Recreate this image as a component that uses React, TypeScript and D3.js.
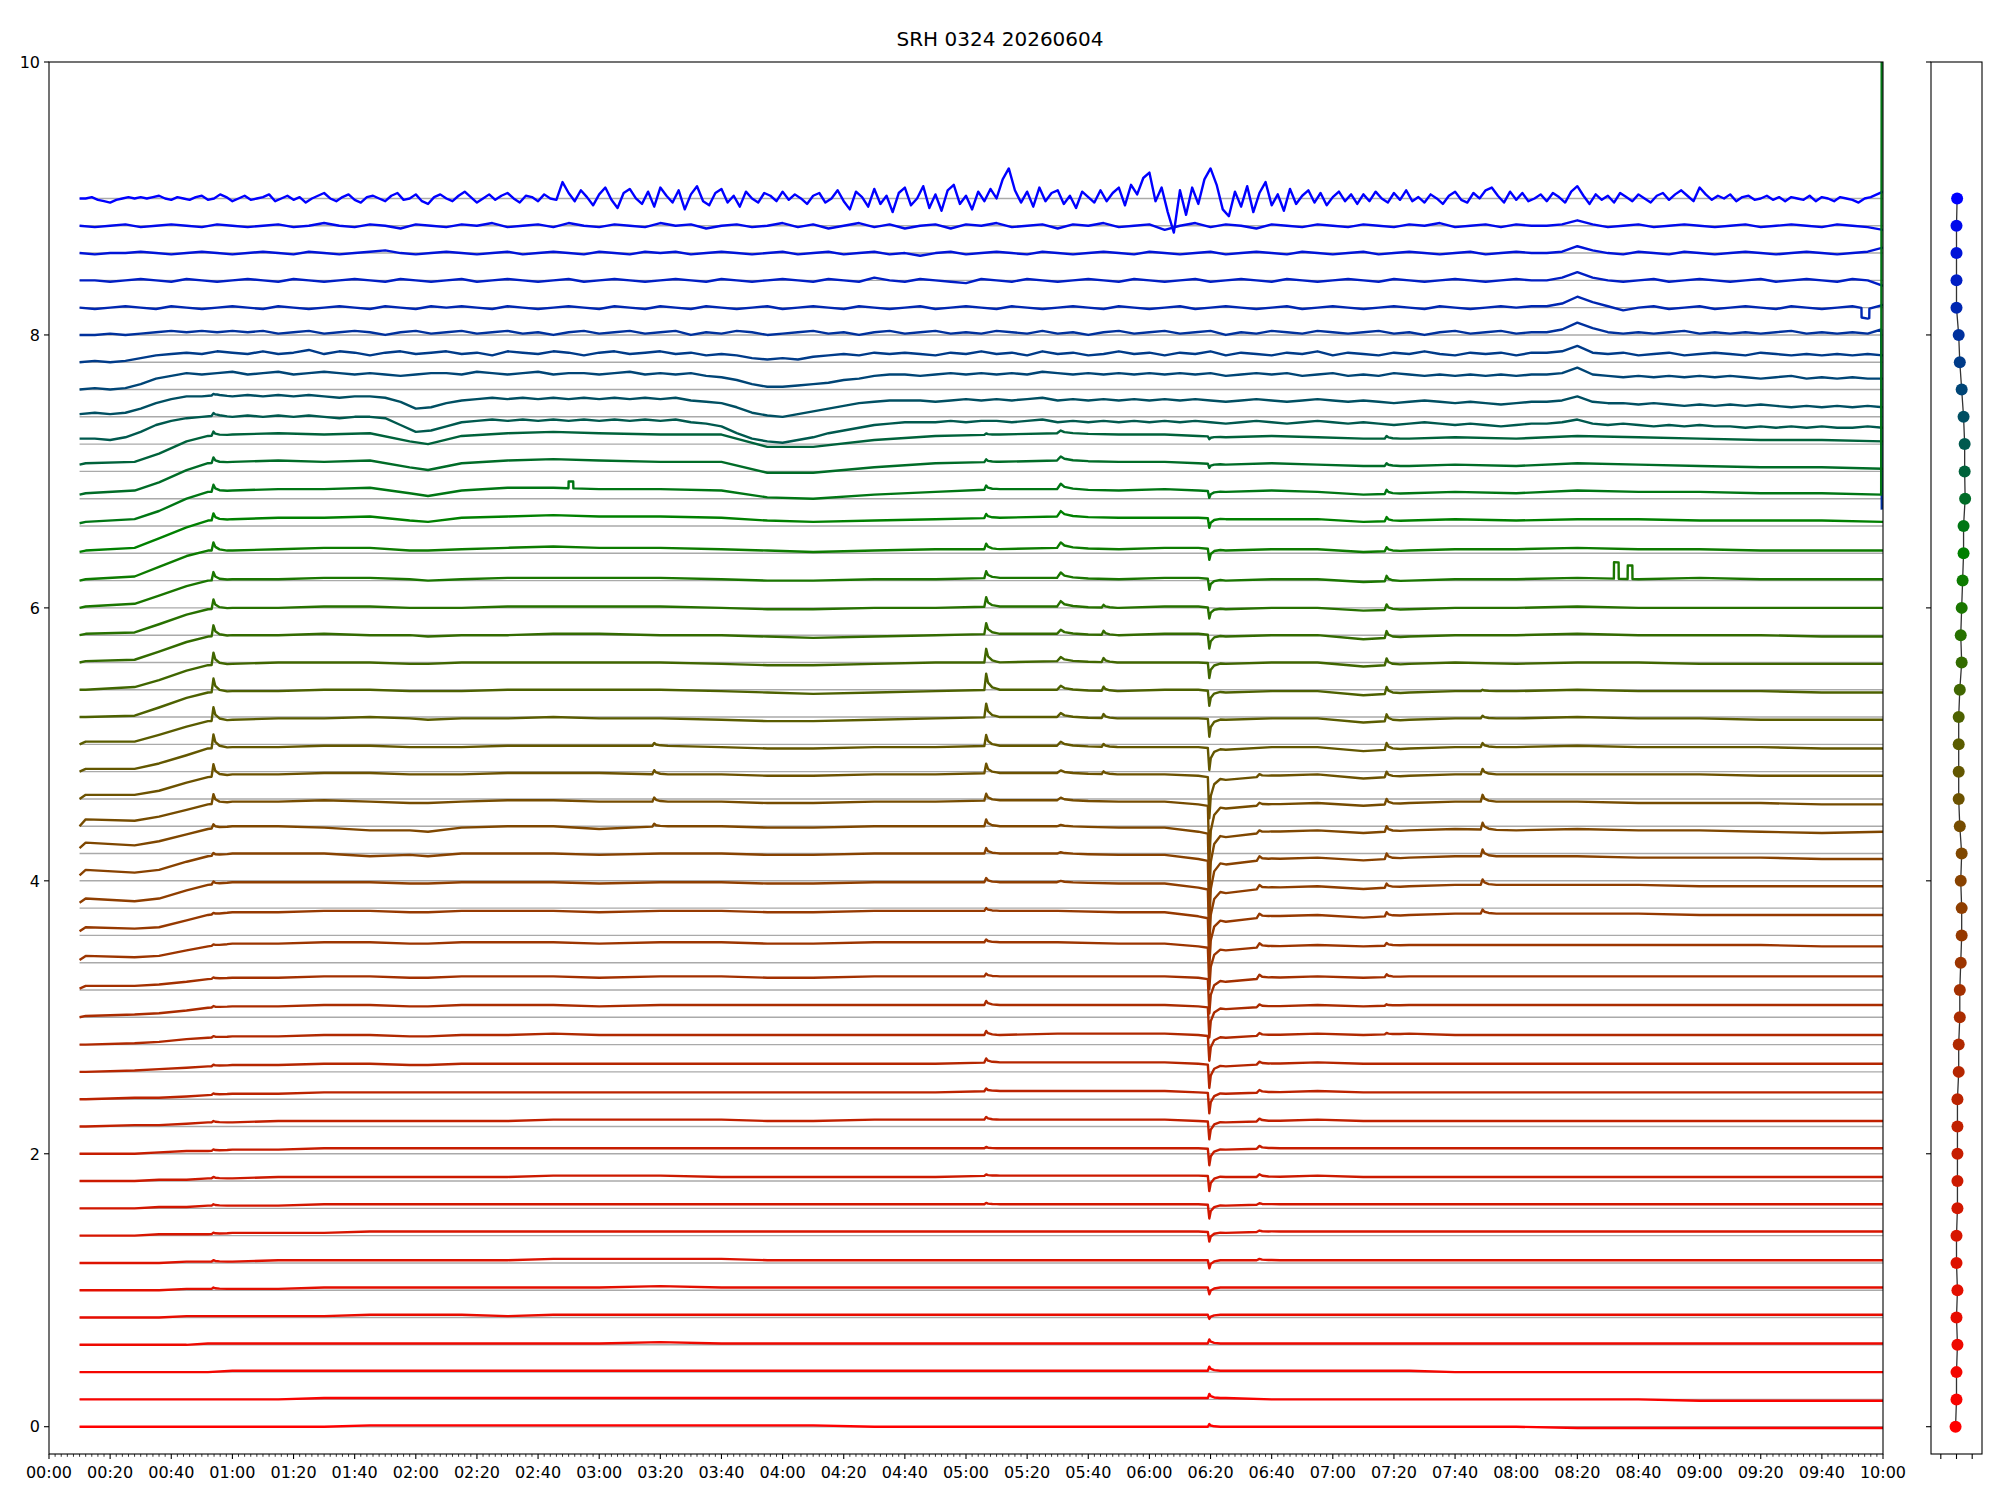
import * as d3 from 'd3'

// ---------- data ----------
const title = 'SRH 0324 20260604'

// trace offsets, top (blue) to bottom (red)
const offsets = [9.0, 8.8, 8.6, 8.4, 8.2, 8.0, 7.8, 7.6, 7.4, 7.2, 7.0, 6.8, 6.6, 6.4, 6.2, 6.0, 5.8, 5.6, 5.4, 5.2,
  5.0, 4.8, 4.6, 4.4, 4.2, 4.0, 3.8, 3.6, 3.4, 3.2, 3.0, 2.8, 2.6, 2.4, 2.2, 2.0, 1.8, 1.6, 1.4, 1.2, 1.0, 0.8, 0.6, 0.4, 0.2, 0.0]

// x position of each dot in the side panel
const dotX = [1.04, 1.0, 1.0, 1.0, 1.0, 1.14, 1.21, 1.33, 1.45, 1.52, 1.52, 1.55, 1.45, 1.45, 1.39, 1.33, 1.27, 1.33, 1.21, 1.14,
  1.14, 1.14, 1.14, 1.21, 1.33, 1.27, 1.33, 1.33, 1.27, 1.21, 1.21, 1.14, 1.14, 1.06, 1.06, 1.06, 1.06, 1.06, 1.0, 1.0,
  1.06, 1.0, 1.06, 1.0, 1.0, 0.94]

// colour of a trace by its offset
const colorStops = [0, 3, 4, 5, 6.4, 9]
const colorValues = ['#ff0000', '#aa2c00', '#884200', '#5a5c00', '#008000', '#0000ff']

const xTickLabels = ['00:00', '00:20', '00:40', '01:00', '01:20', '01:40', '02:00', '02:20', '02:40', '03:00', '03:20',
  '03:40', '04:00', '04:20', '04:40', '05:00', '05:20', '05:40', '06:00', '06:20', '06:40', '07:00', '07:20', '07:40',
  '08:00', '08:20', '08:40', '09:00', '09:20', '09:40', '10:00']
const yTickLabels = ['0', '2', '4', '6', '8', '10']
const sideTicks = [0, 1, 2]

// deviations in 1/100 units. top trace: every 2 min from 00:10
const topTrace = `
0 0 1 -1 -2 -3 -1 0 1 0   1 0 1 2 0 -1 1 0 -1 1   2 -1 0 3 1 -2 0 2 -1 0   1 3 -2 0 2 -1 1 -3 0 2
4 0 -2 1 3 -1 -3 1 2 0   -2 2 4 -1 0 3 -2 -4 1 3   0 -2 2 5 1 -3 0 3 -1 2   4 0 -3 2 1 -2 3 0 -1 12
4 -2 6 1 -5 3 8 -1 -7 4   7 0 -4 5 -6 8 2 -3 6 -8   3 9 -2 -5 4 7 -3 2 -6 5   0 -3 4 2 -2 5 -1 3 0 -4
2 4 -3 0 6 -2 -8 5 1 -6   7 -4 2 -10 4 8 -5 0 9 -7   3 -9 6 10 -4 2 -8 5 -2 7   0 14 22 6 -3 5 -6 8 -2 4
6 -4 2 -7 5 1 -3 6 -2 4   8 -5 10 3 15 19 -2 8 -10 -25   6 -12 8 -4 14 22 10 -8 -13 5   -6 9 -10 4 12 -5 3 -9 7 -4
2 6 -3 4 -5 1 5 -2 3 -4   3 -2 5 0 -3 4 -1 6 -2 1   -3 3 0 -4 2 5 -1 -3 4 0   6 8 2 -3 5 -1 4 -2 0 3
-2 4 1 -3 5 9 2 -4 3 -1   2 -3 4 1 -2 3 0 -3 2 4   -1 3 6 2 -2 8 3 -1 2 0   3 -2 1 2 -1 0 2 -1 1 -2
1 0 -1 2 -2 1 0 -2 1 0   -1 -3 0 1 3 5`

// traces 8.8 .. 7.2: every 5 min from 00:10 (one line = one hour)
const blueRows = [
  `0 -1 0 1 -1 0 1 0 -1 1 0 -1
   0 1 -1 0 2 0 -1 1 0 -2 1 0
   -1 1 0 2 -1 0 1 -1 2 0 -1 1
   0 -1 2 0 1 -2 0 1 -1 0 2 -1
   1 -2 0 2 -1 1 -2 0 1 -2 1 0
   2 -1 0 1 -2 1 0 2 -1 0 1 -3
   0 2 -1 1 0 -2 1 0 -1 1 0 -1
   1 0 -1 1 0 2 -1 0 1 -1 1 0
   0 1 4 1 -1 0 1 -1 0 1 0 -1
   0 1 -1 0 1 0 -1 1 0 -1 -3`,
  `0 -1 0 0 1 0 -1 0 1 0 -1 0
   1 0 -1 1 0 -1 0 1 2 0 -1 0
   1 0 -1 0 1 -1 0 1 0 -1 1 0
   -1 1 0 1 -1 0 1 0 -1 0 1 -1
   0 1 -1 0 1 -1 0 -2 0 1 -1 0
   1 0 -1 1 0 -1 0 1 0 -1 1 0
   -1 0 1 -1 0 1 0 -1 1 0 -1 0
   1 -1 0 1 0 -1 0 1 -1 0 1 0
   0 1 5 2 0 -1 1 0 -1 1 0 -1
   0 1 0 -1 0 1 0 -1 0 1 4`,
  `0 0 -1 0 1 0 -1 1 0 -1 0 1
   0 -1 1 0 -1 0 1 0 -1 1 0 -1
   0 1 -1 0 1 0 -1 0 1 -1 0 1
   0 -1 0 1 0 -1 1 0 -1 0 1 0
   -1 1 0 -1 2 0 -1 1 0 -1 -2 1
   0 -1 1 0 -1 0 1 0 -1 1 0 -1
   0 1 -1 0 1 0 -1 1 0 -1 0 1
   0 -1 1 0 -1 0 1 0 -1 0 1 0
   0 2 6 2 0 -1 0 1 -1 0 1 0
   -1 0 1 -1 0 1 0 -1 1 0 -4`,
  `0 -1 0 1 0 -1 1 0 -1 0 1 0
   -1 1 0 -1 0 1 0 -1 1 0 -1 1
   0 1 0 -1 1 0 -1 0 1 0 -1 1
   0 -1 1 0 -1 1 0 -1 0 1 -1 0
   1 0 -1 1 0 -1 0 1 -1 0 1 0
   -1 1 0 -1 0 1 0 -1 1 0 -1 0
   1 -1 0 1 0 -1 0 1 -1 0 1 0
   -1 0 1 0 -1 1 0 -1 0 1 0 1
   1 3 8 4 1 -2 0 1 -1 0 1 -1
   0 1 0 -1 1 0 -1 0 1 -1 2`,
  `0 0 1 0 1 2 3 2 3 2 3 2
   3 1 2 3 1 2 3 2 0 2 3 1
   2 3 1 2 3 1 2 0 2 3 1 2
   3 1 2 3 0 2 1 3 2 0 1 2
   3 1 2 0 2 3 1 2 3 1 2 1
   3 2 1 3 1 2 0 2 3 1 2 3
   1 2 3 0 2 1 3 2 1 3 2 1
   2 3 1 2 0 2 3 1 2 3 1 2
   2 4 9 5 2 1 2 1 2 3 1 2
   1 2 1 2 3 1 2 1 2 1 4`,
  `0 1 0 1 3 5 6 7 6 8 7 6
   8 6 7 9 6 8 7 5 7 8 6 7
   8 6 7 5 8 7 6 8 7 5 7 8
   6 7 8 6 7 5 6 5 3 2 3 2
   4 5 6 5 7 6 7 6 5 7 6 8
   6 7 5 8 6 7 5 6 8 6 7 5
   7 6 8 5 7 6 5 7 6 8 5 7
   6 5 7 6 8 6 5 7 6 7 5 7
   7 8 12 7 6 7 5 6 7 5 6 7
   6 5 7 6 5 6 5 6 5 6 5`,
  `0 1 0 1 4 8 10 12 11 12 13 11
   12 13 11 12 13 12 11 12 11 10 11 12
   12 11 13 12 11 12 13 11 12 12 11 12
   13 11 12 11 12 10 9 7 4 2 2 3
   4 5 7 8 10 11 11 10 11 12 11 12
   11 12 11 13 12 11 12 11 12 11 12 11
   12 11 12 10 11 12 11 12 10 11 12 10
   11 10 12 11 10 11 10 11 10 11 10 11
   11 12 16 11 10 9 10 9 10 9 10 9
   10 9 8 9 10 8 9 8 9 8 8`,
  `2 3 2 3 6 10 13 15 15 16 15 16
   15 16 15 16 15 14 15 15 14 11 6 7
   10 12 13 14 13 14 13 14 13 14 13 14
   13 14 13 14 12 11 10 7 3 1 0 2
   4 6 8 10 11 12 12 12 11 12 13 12
   13 12 13 14 12 13 12 13 12 13 12 13
   12 13 12 11 12 13 12 11 12 13 12 11
   12 11 10 11 12 11 10 11 10 9 10 11
   11 12 15 11 10 10 9 10 9 8 9 8
   9 8 9 8 7 8 7 8 7 8 7`,
  `4 4 3 5 9 14 17 19 20 21 20 21
   20 21 20 21 20 19 20 20 19 14 9 10
   13 16 17 18 17 18 17 18 17 18 17 18
   17 18 17 18 16 15 13 8 4 2 1 3
   5 8 10 12 14 15 16 16 16 17 16 17
   17 16 17 18 16 17 16 17 16 17 16 17
   16 17 16 15 16 17 16 15 16 17 16 15
   16 15 14 15 16 15 14 15 14 13 14 15
   15 16 18 15 14 15 14 13 14 13 14 13
   13 12 13 12 13 12 13 12 12 13 12`,
]

// traces 7.0 .. 0.0: slow course at these minutes
const slowTimes = [10, 12, 28, 36, 45, 52, 60, 75, 90, 105, 118, 124, 135, 150, 165, 180, 200, 220, 235, 250,
  270, 290, 310, 330, 350, 365, 376, 385, 400, 415, 430, 445, 460, 480, 500, 520, 540, 560, 580, 600]

const slowRows = [
  '5 6 7 13 22 26 27 28 27 28 22 20 26 28 29 28 27 27 18 18 23 26 27 28 27 27 26 25 26 25 24 24 25 24 26 25 24 23 23 22',
  '3 4 6 12 21 26 27 28 27 28 23 21 26 28 29 28 27 27 19 19 23 26 27 28 27 27 26 25 26 25 24 24 25 24 26 25 24 23 23 22',
  '2 3 5 11 20 25 26 27 27 28 24 22 26 28 28 27 27 26 21 20 23 25 27 27 26 27 26 25 26 25 23 24 25 24 26 25 25 24 24 23',
  '1 2 4 11 19 24 25 26 26 27 24 23 26 27 28 27 27 26 24 23 24 25 26 27 26 26 26 25 25 25 23 24 25 24 25 25 24 24 24 23',
  '0 1 3 10 18 22 22 23 24 24 22 22 23 24 25 24 24 23 22 21 22 23 23 24 23 24 24 22 23 23 21 22 23 23 24 23 23 22 22 22',
  '0 1 3 9 16 20 21 21 22 22 21 20 21 22 22 22 22 21 20 20 21 21 22 22 21 22 22 20 21 21 19 20 21 21 22 21 22 21 21 21',
  '0 1 2 8 15 19 20 20 21 21 20 20 20 21 21 21 21 20 19 19 20 20 21 21 20 21 21 19 20 20 18 19 20 20 21 20 20 20 20 20',
  '0 1 2 8 15 19 20 20 21 20 20 19 20 20 21 21 20 20 19 18 19 20 21 21 20 21 21 19 20 20 17 19 20 20 21 20 20 20 19 19',
  '0 0 2 7 14 18 19 20 20 20 19 19 20 20 20 20 20 19 18 18 19 20 20 21 20 20 20 19 20 20 17 19 20 19 20 20 19 19 19 19',
  '0 0 1 7 14 18 19 19 20 20 19 19 19 20 20 20 20 19 18 17 18 19 20 20 19 20 20 18 19 19 16 18 19 19 20 19 19 19 18 18',
  '0 2 2 7 13 17 18 19 19 20 19 18 19 19 20 19 19 18 17 17 18 19 20 20 19 19 19 18 19 19 16 18 19 19 20 19 19 18 18 18',
  '0 2 2 6 12 17 18 18 19 19 18 18 18 19 19 19 19 18 17 17 18 18 19 19 18 18 18 16 18 18 15 17 18 18 19 18 18 18 17 17',
  '0 3 3 6 12 16 18 18 19 19 18 18 18 19 19 19 18 18 17 17 18 18 19 19 18 18 17 14 17 18 15 17 18 18 18 18 18 17 17 17',
  '0 5 4 7 12 16 18 18 19 18 17 17 18 19 19 18 18 18 17 17 18 18 19 19 18 18 16 13 16 17 15 17 18 18 18 17 17 17 16 16',
  '4 8 6 9 14 18 20 20 19 17 17 16 19 20 20 18 20 20 19 19 20 20 20 20 19 19 16 12 16 17 15 17 18 17 18 17 17 16 15 16',
  '4 8 6 8 14 18 20 20 20 18 19 18 20 20 20 19 20 20 19 19 20 20 20 20 19 19 16 12 16 17 15 17 18 18 18 17 17 17 16 16',
  '4 7 5 7 13 17 19 19 19 19 18 18 19 19 19 18 19 19 18 18 19 19 19 19 18 18 15 11 15 16 14 16 17 17 17 17 16 16 16 16',
  '3 6 5 6 11 15 17 17 18 18 17 17 18 18 18 17 18 18 17 17 18 18 18 18 17 17 14 10 14 15 13 15 16 16 16 16 15 15 15 15',
  '2 5 4 5 9 12 14 14 15 15 14 14 15 15 15 14 15 15 14 14 15 15 15 15 14 14 12 9 12 13 12 13 13 13 13 13 13 13 12 12',
  '1 3 3 4 6 8 9 9 10 10 9 9 10 10 10 9 10 10 9 9 10 10 10 10 10 10 9 6 9 10 9 10 10 10 10 10 10 10 10 10',
  '0 1 2 3 5 7 8 8 9 9 8 8 9 9 9 8 9 9 9 9 9 9 9 9 9 9 8 6 8 9 8 9 9 9 9 9 9 9 9 9',
  '0 0 1 2 4 5 6 6 7 7 6 6 7 7 8 7 7 7 7 7 7 7 7 8 8 8 7 5 7 8 7 8 7 7 7 7 7 7 7 7',
  '0 0 1 2 3 4 5 5 6 6 5 5 6 6 6 6 6 6 6 6 6 6 7 7 7 7 6 4 6 7 6 6 6 6 6 6 6 6 6 6',
  '0 0 1 1 2 3 4 4 5 5 5 5 5 5 5 5 5 5 5 5 5 5 6 6 6 6 5 4 5 6 5 5 5 5 5 5 5 5 5 5',
  '0 0 1 1 2 3 3 4 4 4 4 4 4 4 5 5 5 5 4 4 5 5 5 5 5 5 4 3 4 5 4 4 4 4 4 4 4 4 4 4',
  '0 0 0 1 2 2 3 3 4 4 4 4 4 4 4 4 4 4 4 4 4 4 4 4 4 4 4 3 4 4 4 4 4 4 4 4 4 4 4 4',
  '0 0 0 1 1 2 2 3 3 3 3 3 3 3 4 4 4 3 3 3 3 3 4 4 4 4 4 3 3 4 3 3 3 3 3 3 3 3 3 3',
  '0 0 0 1 1 2 2 2 3 3 3 3 3 3 3 3 3 3 3 3 3 3 3 3 3 3 3 2 3 3 3 3 3 3 3 3 3 3 3 3',
  '0 0 0 1 1 1 2 2 2 3 3 3 3 3 3 3 3 3 3 3 3 3 3 3 3 3 3 2 3 3 3 3 3 3 3 3 3 3 3 3',
  '0 0 0 0 1 1 1 2 2 2 2 2 2 2 3 3 3 3 2 2 2 2 2 2 2 2 2 2 2 2 2 2 2 2 2 2 2 2 2 2',
  '0 0 0 0 1 1 1 1 2 2 2 2 2 2 2 2 3 2 2 2 2 2 2 2 2 2 2 2 2 2 2 2 2 2 2 2 2 2 2 2',
  '0 0 0 0 1 1 1 1 1 2 2 2 2 1 2 2 2 2 2 2 2 2 2 2 2 2 2 2 2 2 2 2 2 2 2 2 2 2 2 2',
  '0 0 0 0 0 1 1 1 1 1 1 1 1 1 1 1 2 1 1 1 1 1 1 1 1 1 1 1 1 1 1 1 1 1 1 1 1 1 1 1',
  '0 0 0 0 0 0 1 1 1 1 1 1 1 1 1 1 1 1 1 1 1 1 1 1 1 1 1 1 1 1 1 1 0 0 0 0 0 0 0 0',
  '0 0 0 0 0 0 0 0 1 1 1 1 1 1 1 1 1 1 1 1 1 1 1 1 1 1 1 1 0 0 0 0 0 0 0 0 -1 -1 -1 -1',
  '0 0 0 0 0 0 0 0 0 1 1 1 1 1 1 1 1 1 1 1 0 0 0 0 0 0 0 0 0 0 0 0 0 0 -1 -1 -1 -1 -1 -1',
]

// short events seen on many traces at once: minute, width factor, trace:amplitude
const spikeTimes = [53.8, 306.6, 331, 345, 379.6, 437.6, 469, 198, 396]
const spikeWidths = [1, 1, 2, 1, 0.8, 1, 1, 1, 1.5]
const spikeAmps = [
  '8:1 9:2 10:3 11:4 12:5 13:5 14:6 15:6 16:7 17:8 18:9 19:10 20:10 21:10 22:9 23:7 24:3 25:2 26:2 27:1 28:1 29:1 30:1 31:1 32:1 33:1 34:1 35:1 36:1 37:1 38:1 39:1 40:1',
  '10:1 11:2 12:3 13:3 14:4 15:5 16:7 17:8 18:10 19:12 20:10 21:8 22:7 23:5 24:5 25:4 26:3 27:2 28:2 29:2 30:3 31:3 32:3 33:2 34:2 35:1 36:1 37:1',
  '10:2 11:3 12:4 13:4 14:4 15:4 16:4 17:3 18:3 19:3 20:3 21:3 22:2 23:2 24:1 25:1 26:1',
  '16:2 17:3 18:3 19:3 20:3 21:2 22:2',
  '10:-2 11:-3 12:-5 13:-7 14:-8 15:-8 16:-8 17:-10 18:-11 19:-11 20:-13 21:-16 22:-30 23:-40 24:-45 25:-45 26:-40 27:-35 28:-30 29:-25 30:-22 31:-18 32:-17 33:-15 34:-13 35:-12 36:-11 37:-10 38:-7 39:-6 40:-5 41:-3 42:3 43:3 44:3 45:2',
  '10:2 11:2 12:3 13:3 14:3 15:4 16:4 17:5 18:5 19:5 20:5 21:5 22:4 23:4 24:4 25:4 26:3 27:3 28:2 29:2 30:1 31:1',
  '19:1 20:2 21:3 22:4 23:5 24:5 25:5 26:4 27:3',
  '21:2 22:3 23:3 24:2',
  '22:2 23:2 24:2 25:3 26:3 27:3 28:3 29:3 30:2 31:2 32:2 33:2 34:2 35:2 36:2 37:1 38:1 39:1',
]
const spikeShape = [[-0.6, 0], [0, 1], [0.6, 0.45], [2, 0.15], [4.5, 0]]

// flat-topped pulses: trace, from, to, amplitude
const pulses = [[4, 593, 595.5, -7], [15, 512, 513.5, 12], [15, 516.5, 518, 10], [12, 170, 171.5, 5]]
// last sample of a trace jumping away: trace, value
const endJumps = [[5, -128], [12, 390]]

// ---------- build ----------
const num = (s: string) => s.trim().split(/[\s,]+/).map(Number)

function baseSeries(i: number): [number[], number[]] {
  if (i === 0) {
    const v = num(topTrace)
    return [v.map((_, k) => 10 + 2 * k), v]
  }
  if (i <= blueRows.length) {
    const v = num(blueRows[i - 1])
    return [v.map((_, k) => 10 + 5 * k), v]
  }
  const v = num(slowRows[i - 1 - blueRows.length])
  return [slowTimes.slice(0, v.length), v]
}

const ampTable = spikeAmps.map(s => {
  const m = new Map<number, number>()
  s.trim().split(/\s+/).forEach(p => {
    const [k, v] = p.split(':').map(Number)
    m.set(k, v)
  })
  return m
})

const shape = d3.scaleLinear().domain(spikeShape.map(d => d[0])).range(spikeShape.map(d => d[1])).clamp(true)

function tracePoints(i: number): [number, number][] {
  const [times, vals] = baseSeries(i)
  const base = d3.scaleLinear().domain(times).range(vals).clamp(true)
  const ts = new Set<number>(times)
  spikeTimes.forEach((t0, e) => {
    if (ampTable[e].has(i)) spikeShape.forEach(([dt]) => ts.add(t0 + dt * spikeWidths[e]))
  })
  const mine = pulses.filter(p => p[0] === i)
  mine.forEach(([, a, b]) => { ts.add(a - 0.05); ts.add(a); ts.add(b); ts.add(b + 0.05) })
  const sorted = [...ts].filter(t => t >= 10 && t <= 600).sort((a, b) => a - b)
  const pts: [number, number][] = sorted.map(t => {
    let v = base(t)
    spikeTimes.forEach((t0, e) => {
      const a = ampTable[e].get(i)
      if (a) v += a * shape((t - t0) / spikeWidths[e])
    })
    mine.forEach(([, a, b, amp]) => { if (t >= a && t <= b) v += amp })
    return [t, offsets[i] + v / 100]
  })
  const jump = endJumps.find(j => j[0] === i)
  if (jump) {
    pts[pts.length - 1][0] = 599.4
    pts.push([599.6, offsets[i] + jump[1] / 100])
  }
  return pts
}

const traces = offsets.map((_, i) => tracePoints(i))

export default function App() {
  const margin = { left: 49, right: 1883, top: 62, bottom: 1454 }
  const side = { left: 1931, right: 1982 }
  const x = d3.scaleLinear().domain([0, 600]).range([margin.left, margin.right])
  const y = d3.scaleLinear().domain([-0.2, 10]).range([margin.bottom, margin.top])
  const sx = d3.scaleLinear().domain([-0.625, 2.625]).range([side.left, side.right])
  const color = d3.scaleLinear<string>().domain(colorStops).range(colorValues).interpolate(d3.interpolateRgb)
  const line = d3.line<[number, number]>().x(d => x(d[0])).y(d => y(d[1]))
  const dotLine = d3.line<number>().x((_, i) => sx(dotX[i])).y(d => y(d))

  const majorX = xTickLabels.map((_, i) => i * 20)
  const minorX = d3.range(0, 601, 2).filter(t => t % 20 !== 0)
  const yTicks = yTickLabels.map(Number)
  const font = '"DejaVu Sans", sans-serif'

  return (
    <svg width={2000} height={1500} style={{ position: 'absolute', left: 0, top: 0, fontFamily: font }}>
      <rect width={2000} height={1500} fill="#fff" />
      <defs>
        <clipPath id="plotClip">
          <rect x={margin.left} y={margin.top} width={margin.right - margin.left} height={margin.bottom - margin.top} />
        </clipPath>
      </defs>
      <text x={1000} y={46} textAnchor="middle" fontSize={20}>{title}</text>

      {/* baselines, then traces */}
      <g clipPath="url(#plotClip)">
        {offsets.map(o => (
          <line key={o} x1={x(10)} x2={x(600)} y1={y(o)} y2={y(o)} stroke="#aaaaaa" strokeWidth={1.4} />
        ))}
        {traces.map((pts, i) => (
          <path key={i} d={line(pts) ?? ''} fill="none" stroke={color(offsets[i])} strokeWidth={2.4}
            strokeLinejoin="round" />
        ))}
      </g>

      {/* main axes frame + ticks */}
      <rect x={margin.left} y={margin.top} width={margin.right - margin.left} height={margin.bottom - margin.top}
        fill="none" stroke="#000" strokeWidth={1.1} />
      {yTicks.map((v, i) => (
        <g key={v}>
          <line x1={margin.left - 5} x2={margin.left} y1={y(v)} y2={y(v)} stroke="#000" strokeWidth={1.1} />
          <text x={margin.left - 9} y={y(v)} dy="0.36em" textAnchor="end" fontSize={16}>{yTickLabels[i]}</text>
        </g>
      ))}
      {minorX.map(t => (
        <line key={t} x1={x(t)} x2={x(t)} y1={margin.bottom} y2={margin.bottom + 2.8} stroke="#000" strokeWidth={0.8} />
      ))}
      {majorX.map((t, i) => (
        <g key={t}>
          <line x1={x(t)} x2={x(t)} y1={margin.bottom} y2={margin.bottom + 5} stroke="#000" strokeWidth={1.1} />
          <text x={x(t)} y={margin.bottom + 24} textAnchor="middle" fontSize={16}>{xTickLabels[i]}</text>
        </g>
      ))}

      {/* side panel */}
      <path d={dotLine(offsets) ?? ''} fill="none" stroke="#333" strokeWidth={1.3} />
      {offsets.map((o, i) => (
        <circle key={o} cx={sx(dotX[i])} cy={y(o)} r={6} fill={color(o)} />
      ))}
      <rect x={side.left} y={margin.top} width={side.right - side.left} height={margin.bottom - margin.top}
        fill="none" stroke="#000" strokeWidth={1.1} />
      {yTicks.map(v => (
        <line key={v} x1={side.left - 5} x2={side.left} y1={y(v)} y2={y(v)} stroke="#000" strokeWidth={1.1} />
      ))}
      {sideTicks.map(v => (
        <line key={v} x1={sx(v)} x2={sx(v)} y1={margin.bottom} y2={margin.bottom + 5} stroke="#000" strokeWidth={1.1} />
      ))}
    </svg>
  )
}
